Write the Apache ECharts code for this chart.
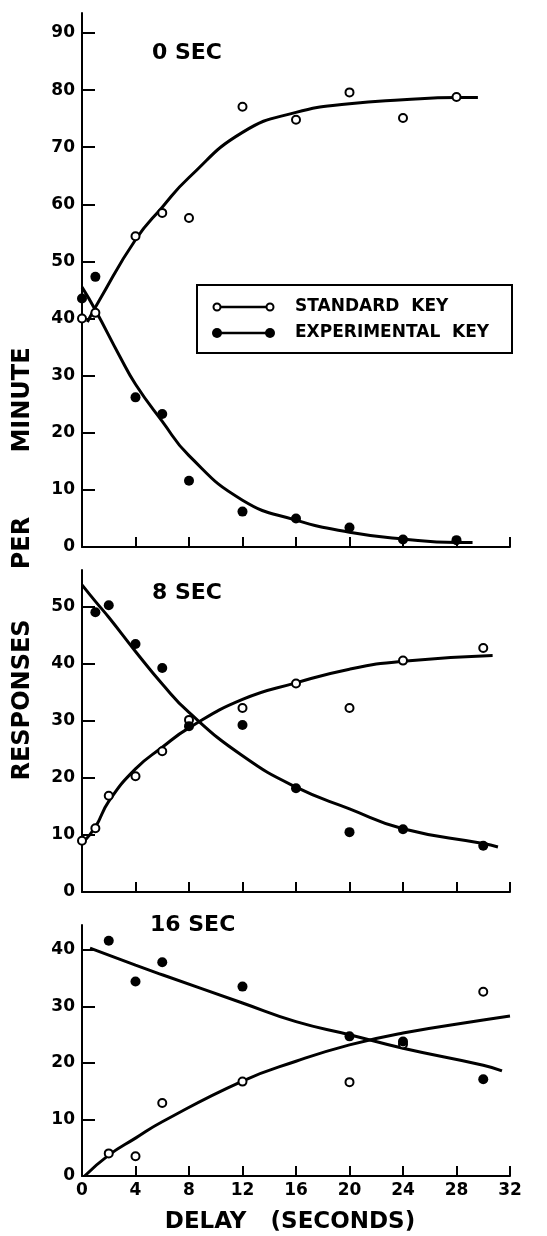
<!DOCTYPE html>
<html>
<head>
<meta charset="utf-8">
<script src="https://cdn.jsdelivr.net/npm/echarts@6/dist/echarts.min.js"></script>
<style>
  html, body { margin: 0; padding: 0; background: #fff; }
  #chart { width: 547px; height: 1236px; }
</style>
</head>
<body>
<div id="chart"></div>
<script>
// tick labels
var xTicks = [0, 4, 8, 12, 16, 20, 24, 28, 32]
var yTicks0 = [0, 10, 20, 30, 40, 50, 60, 70, 80, 90]
var yTicks8 = [0, 10, 20, 30, 40, 50]
var yTicks16 = [0, 10, 20, 30, 40]

// 0 SEC
var std0X = [0, 1, 4, 6, 8, 12, 16, 20, 24, 28]
var std0Y = [40, 41, 54.4, 58.5, 57.6, 77.1, 74.8, 79.6, 75.1, 78.8]
var exp0X = [0, 1, 4, 6, 8, 12, 16, 20, 24, 28]
var exp0Y = [43.5, 47.3, 26.2, 23.3, 11.6, 6.2, 5, 3.4, 1.3, 1.2]
var std0FitX = [0.4, 1.3, 4, 6, 8, 12, 16, 20, 24, 28, 29.6]
var std0FitY = [39.4, 43.2, 53.8, 59.5, 64.7, 72.6, 76.1, 77.6, 78.3, 78.7, 78.7]
var exp0FitX = [0, 1, 2.8, 4, 6, 8, 12, 16, 20, 24, 28, 29.2]
var exp0FitY = [45.5, 41.5, 33.5, 28.5, 22, 16, 8.2, 4.7, 2.6, 1.4, 0.8, 0.8]

// 8 SEC
var std8X = [0, 1, 2, 4, 6, 8, 12, 16, 20, 24, 30]
var std8Y = [9, 11.2, 16.9, 20.3, 24.7, 30.2, 32.3, 36.6, 32.3, 40.6, 42.8]
var exp8X = [1, 2, 4, 6, 8, 12, 16, 20, 24, 30]
var exp8Y = [49.1, 50.3, 43.5, 39.3, 29.1, 29.3, 18.2, 10.5, 11, 8.1]
var std8FitX = [0, 1, 2, 4, 6, 8, 12, 16, 20, 24, 30.7]
var std8FitY = [8.5, 11.4, 15.9, 21.6, 25.4, 28.8, 33.8, 36.7, 39.1, 40.5, 41.5]
var exp8FitX = [0, 1, 2, 4, 6, 8, 12, 16, 20, 24, 30, 31.1]
var exp8FitY = [53.9, 51, 48.2, 42.2, 36.5, 31.5, 23.9, 18.4, 14.6, 11.1, 8.5, 7.9]

// 16 SEC
var std16X = [2, 4, 6, 12, 20, 24, 30]
var std16Y = [4, 3.5, 12.9, 16.7, 16.6, 23.3, 32.6]
var exp16X = [2, 4, 6, 12, 20, 24, 30]
var exp16Y = [41.6, 34.4, 37.8, 33.5, 24.7, 23.8, 17.1]
var std16FitX = [0.2, 2, 4, 6, 12, 16, 20, 24, 30, 32]
var std16FitY = [0, 3.7, 6.7, 9.6, 16.8, 20.3, 23.2, 25.3, 27.6, 28.3]
var exp16FitX = [0.6, 4, 6, 12, 16, 20, 24, 30, 31.4]
var exp16FitY = [40.3, 37.3, 35.6, 30.6, 27.3, 25, 22.6, 19.6, 18.6]

var FONT = '"DejaVu Sans", sans-serif'

function zip(xs, ys) {
  return xs.map(function(x, i) { return [x, ys[i]] })
}

function dots(xs, ys, idx, filled) {
  return {
    type: 'scatter',
    xAxisIndex: idx,
    yAxisIndex: idx,
    data: zip(xs, ys),
    symbol: 'circle',
    symbolSize: filled ? 10 : 8,
    itemStyle: { color: filled ? '#000' : '#fff', borderColor: '#000', borderWidth: filled ? 0 : 2, opacity: 1 },
    silent: true,
    z: 4
  }
}

function fit(xs, ys, idx) {
  return {
    type: 'line',
    xAxisIndex: idx,
    yAxisIndex: idx,
    data: zip(xs, ys),
    smooth: 0.5,
    showSymbol: false,
    lineStyle: { color: '#000', width: 3 },
    silent: true,
    z: 3
  }
}

function xAxis(idx, labels) {
  return {
    gridIndex: idx,
    type: 'value',
    min: 0,
    max: 32,
    interval: 4,
    axisLine: { onZero: false, lineStyle: { color: '#000', width: 2 } },
    axisTick: { inside: true, length: 10, lineStyle: { color: '#000', width: 2 } },
    axisLabel: { show: labels, customValues: xTicks, color: '#000', fontFamily: FONT, fontWeight: 'bold', fontSize: 17, margin: 6 },
    splitLine: { show: false }
  }
}

function yAxis(idx, max, ticks) {
  return {
    gridIndex: idx,
    type: 'value',
    min: 0,
    max: max,
    interval: 10,
    axisLine: { show: true, onZero: false, lineStyle: { color: '#000', width: 2 } },
    axisTick: { show: true, inside: true, length: 13, customValues: ticks, lineStyle: { color: '#000', width: 2 } },
    axisLabel: { customValues: ticks, color: '#000', fontFamily: FONT, fontWeight: 'bold', fontSize: 17, margin: 7 },
    splitLine: { show: false }
  }
}

var xs = [xAxis(0, false), xAxis(1, false), xAxis(2, true)]
xs[2].name = 'DELAY   (SECONDS)'
xs[2].nameLocation = 'middle'
xs[2].nameGap = 35
xs[2].nameTextStyle = { color: '#000', fontFamily: FONT, fontWeight: 'bold', fontSize: 23, padding: [0, 12, 0, 0] }

var titleStyle = { color: '#000', fontFamily: FONT, fontWeight: 'bold', fontSize: 22 }
var keyFont = 'bold 17px ' + FONT
var yTitleFont = 'bold 24px ' + FONT

var chart = echarts.init(document.getElementById('chart'))
chart.setOption({
  animation: false,
  backgroundColor: '#fff',
  title: [
    { text: '0 SEC', left: 152, top: 42, padding: 0, textStyle: titleStyle },
    { text: '8 SEC', left: 152, top: 582, padding: 0, textStyle: titleStyle },
    { text: '16 SEC', left: 150, top: 914, padding: 0, textStyle: titleStyle }
  ],
  grid: [
    { left: 82, top: 13, width: 428, height: 534 },
    { left: 82, top: 570, width: 428, height: 322 },
    { left: 82, top: 925, width: 428, height: 251 }
  ],
  xAxis: xs,
  yAxis: [yAxis(0, 93.5, yTicks0), yAxis(1, 56.5, yTicks8), yAxis(2, 44.4, yTicks16)],
  graphic: [
    // legend box
    { type: 'rect', shape: { x: 197, y: 285, width: 315, height: 68 }, style: { fill: '#fff', stroke: '#000', lineWidth: 2 }, z: 10 },
    { type: 'line', shape: { x1: 217, y1: 307, x2: 270, y2: 307 }, style: { stroke: '#000', lineWidth: 2.5 }, z: 11 },
    { type: 'circle', shape: { cx: 217, cy: 307, r: 3.5 }, style: { fill: '#fff', stroke: '#000', lineWidth: 2 }, z: 12 },
    { type: 'circle', shape: { cx: 270, cy: 307, r: 3.5 }, style: { fill: '#fff', stroke: '#000', lineWidth: 2 }, z: 12 },
    { type: 'line', shape: { x1: 217, y1: 333, x2: 270, y2: 333 }, style: { stroke: '#000', lineWidth: 2.5 }, z: 11 },
    { type: 'circle', shape: { cx: 217, cy: 333, r: 5 }, style: { fill: '#000' }, z: 12 },
    { type: 'circle', shape: { cx: 270, cy: 333, r: 5 }, style: { fill: '#000' }, z: 12 },
    { type: 'text', x: 295, y: 307, style: { text: 'STANDARD  KEY', font: keyFont, fill: '#000', align: 'left', verticalAlign: 'middle' }, z: 12 },
    { type: 'text', x: 295, y: 333, style: { text: 'EXPERIMENTAL  KEY', font: keyFont, fill: '#000', align: 'left', verticalAlign: 'middle' }, z: 12 },
    // y axis title
    { type: 'text', x: 23, y: 700, rotation: Math.PI / 2, style: { text: 'RESPONSES', font: yTitleFont, fill: '#000', align: 'center', verticalAlign: 'middle' } },
    { type: 'text', x: 23, y: 543, rotation: Math.PI / 2, style: { text: 'PER', font: yTitleFont, fill: '#000', align: 'center', verticalAlign: 'middle' } },
    { type: 'text', x: 23, y: 400, rotation: Math.PI / 2, style: { text: 'MINUTE', font: yTitleFont, fill: '#000', align: 'center', verticalAlign: 'middle' } }
  ],
  series: [
    fit(std0FitX, std0FitY, 0),
    fit(exp0FitX, exp0FitY, 0),
    dots(std0X, std0Y, 0, false),
    dots(exp0X, exp0Y, 0, true),
    fit(std8FitX, std8FitY, 1),
    fit(exp8FitX, exp8FitY, 1),
    dots(std8X, std8Y, 1, false),
    dots(exp8X, exp8Y, 1, true),
    fit(std16FitX, std16FitY, 2),
    fit(exp16FitX, exp16FitY, 2),
    dots(std16X, std16Y, 2, false),
    dots(exp16X, exp16Y, 2, true)
  ]
})
</script>
</body>
</html>
